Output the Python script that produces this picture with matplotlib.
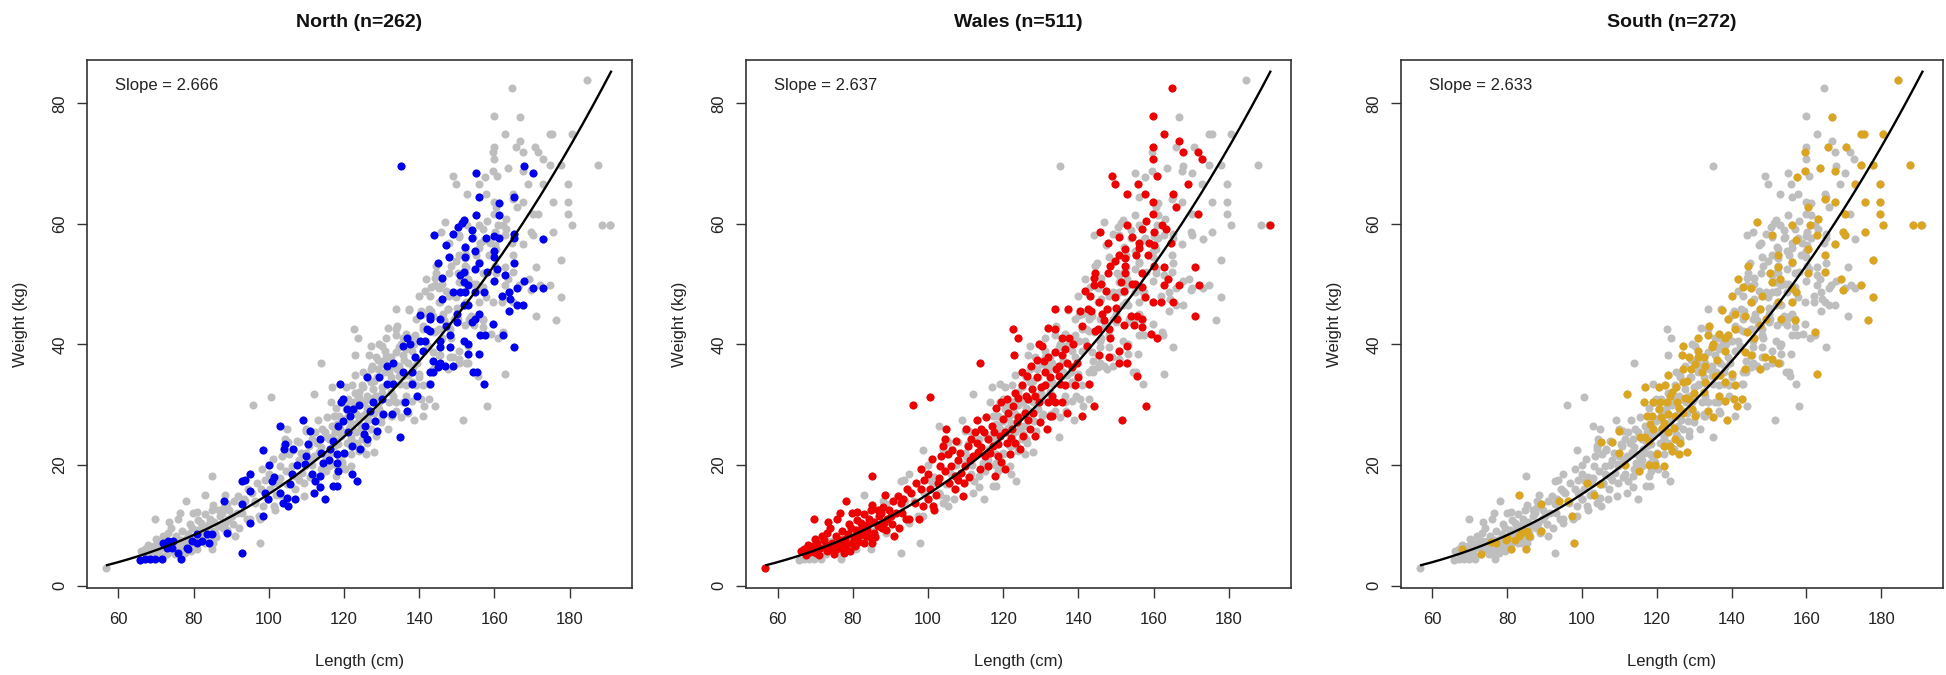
import matplotlib
matplotlib.use("Agg")
import matplotlib.pyplot as plt
import numpy as np

plt.rcParams['font.family'] = ['Liberation Sans', 'DejaVu Sans']

# ---------------- data (length cm, weight kg) ----------------
north = [
    (65.8,4.2),(67.1,4.4),(68.4,4.4),(69.8,4.4),(71.5,4.4),(72.0,7.1),(73.3,7.4),(74.6,7.4),(72.9,6.3),(74.2,6.3),
    (76.0,5.4),(76.8,4.4),(78.2,6.3),(78.6,6.0),(79.5,7.4),(80.8,8.5),(80.8,7.1),(82.2,7.4),(84.0,7.1),(83.5,8.5),
    (84.8,8.5),(88.8,8.8),(92.8,5.4),(88.0,14.1),(92.8,13.5),(95.0,10.4),(92.8,17.4),(93.7,17.6),(95.0,18.5),(95.0,15.7),
    (98.6,11.5),(99.0,15.4),(100.8,17.4),(98.6,22.5),(99.9,14.3),(103.0,15.3),(103.9,13.7),(104.8,14.6),(105.2,13.2),(105.7,16.8),
    (106.1,18.5),(107.0,14.3),(103.0,26.4),(104.1,22.6),(104.3,23.5),(106.5,22.6),(109.0,27.5),(109.7,20.1),(110.5,23.5),(111.0,25.7),
    (111.4,18.5),(112.3,17.4),(111.9,15.4),(113.6,18.2),(113.6,16.3),(115.0,14.3),(114.5,20.4),(113.6,24.4),(115.9,20.9),(116.3,22.6),
    (117.2,16.5),(118.1,16.5),(118.1,20.4),(118.1,21.8),(118.5,19.0),(119.0,33.5),(119.1,30.4),(118.5,26.5),(119.8,30.9),(119.8,27.3),
    (120.7,29.3),(121.2,25.4),(121.6,28.2),(122.5,29.3),(122.1,23.2),(122.1,18.5),(123.4,17.4),(124.3,22.6),(125.2,25.1),(125.6,26.5),
    (126.1,34.6),(126.1,24.3),(127.8,30.4),(128.3,27.3),(128.7,25.7),(129.2,34.6),(130.5,28.5),(132.7,28.5),(131.4,33.5),(131.4,36.5),
    (133.1,33.5),(134.9,24.6),(135.8,39.8),(136.7,41.0),(137.6,40.1),(135.8,35.4),(136.3,30.4),(136.7,29.0),
    (135.1,69.6),(155.0,68.5),(167.9,69.6),(170.2,68.5),(156.0,64.5),(165.1,64.5),(161.1,63.4),(155.0,61.5),(161.1,61.5),
    (151.9,60.6),(151.3,60.1),(150.4,59.5),(149.1,58.4),(144.0,58.1),(154.0,59.0),(154.0,57.6),(157.8,57.6),(161.1,57.6),(165.1,58.4),
    (165.1,57.6),(173.0,57.5),(147.2,56.5),(152.2,56.2),(154.9,55.5),(159.9,55.5),(148.0,54.5),(152.2,54.5),(144.9,53.6),(156.0,53.6),
    (159.9,54.5),(165.1,53.6),(154.9,52.5),(160.6,52.6),(162.8,51.5),(146.0,51.1),(150.9,51.5),(151.8,50.4),(153.1,49.8),(159.9,50.5),
    (167.9,50.5),(170.2,49.4),(173.0,49.4),(149.1,48.7),(150.9,48.7),(152.2,48.7),(154.9,48.7),(157.1,48.7),(164.0,48.7),(165.9,49.4),
    (146.0,47.6),(153.1,46.6),(151.8,46.6),(164.2,47.5),(165.9,46.6),(167.7,46.6),(164.0,45.5),
    (140.2,44.9),(142.9,44.8),(142.9,44.3),(145.6,44.3),(150.0,43.7),(154.9,44.3),(154.0,43.7),(159.7,43.4),(142.0,42.6),(142.9,42.3),
    (140.2,40.6),(141.6,40.6),(145.6,40.6),(148.2,41.6),(151.8,40.6),(153.1,40.1),(156.2,41.5),(157.5,41.5),(162.4,41.5),(145.6,39.6),
    (148.2,39.6),(153.1,38.4),(155.8,38.4),(165.1,39.6),(143.8,37.3),(145.6,37.0),(145.1,36.2),(146.9,36.5),(143.8,35.4),(142.9,35.4),
    (149.1,36.5),(154.4,35.4),(155.3,35.4),(157.1,33.5),(138.0,35.4),(142.9,33.5),(139.3,31.5),(138.0,33.5),
    (100.0,20.0),(101.5,18.0),(107.5,20.0),(110.0,21.5),(114.0,22.0),(117.0,24.0),(120.0,22.0),(124.0,30.0),(127.0,29.0),(130.0,31.0),
    (133.0,37.0),(139.0,38.0),(141.0,39.0),(147.0,43.0),(150.0,45.0),(152.0,52.0),(156.0,45.0),(158.0,52.0),(160.0,58.0),(162.0,48.0),
]

wales = [
    (56.7,2.9),
    (66.1,5.7),(67.0,6.0),(68.0,6.8),(69.2,6.0),(70.1,5.4),(70.5,7.1),(71.4,6.3),(72.3,7.6),(73.2,8.8),(73.2,5.7),
    (74.5,7.1),(75.4,8.2),(75.4,6.0),(76.3,6.3),(76.8,7.6),(77.7,5.4),(78.1,6.8),(78.6,8.5),(79.0,10.2),(79.9,7.1),
    (80.3,7.9),(80.8,9.3),(81.7,8.2),(82.1,10.4),(82.6,8.8),(83.5,8.2),(83.9,9.3),(84.3,11.0),(85.2,7.1),(85.7,8.8),
    (86.6,9.9),(87.0,11.5),(87.5,12.1),(88.3,10.4),(88.8,9.3),(89.2,11.0),(90.1,11.5),(91.0,8.2),(84.8,12.6),(85.2,13.4),
    (75.9,11.0),(78.1,14.0),(79.9,12.1),(69.8,11.0),
    (67.5,5.0),(68.5,5.5),(69.5,6.5),(70.0,7.8),(71.0,5.0),(71.8,8.2),(72.8,6.8),(73.8,6.0),(74.0,9.5),(75.0,5.2),
    (76.0,7.0),(77.0,9.0),(77.3,6.2),(78.0,7.8),(79.3,5.8),(79.5,9.5),(80.5,6.5),(81.2,10.8),(81.5,7.2),(82.5,9.8),
    (83.0,7.0),(84.0,10.2),(84.5,8.0),(85.5,10.5),(86.0,8.0),(86.8,12.5),(87.8,9.5),(88.0,13.0),(89.5,12.5),(90.5,10.2),
    (91.5,12.0),(92.2,9.5),(93.0,12.0),(73.5,10.5),(76.5,12.0),(81.0,12.2),(83.0,11.8),(88.5,15.0),(90.8,14.0),(94.5,16.0),
    (91.9,14.9),(92.8,13.7),(93.3,14.3),(94.1,11.0),(95.0,11.0),(95.5,15.4),(96.4,13.7),(96.8,17.1),(97.7,11.0),(98.2,19.3),
    (98.6,13.2),(99.0,17.6),(99.9,14.3),(100.4,16.0),(101.3,13.2),(101.7,12.6),(102.6,17.1),(103.1,19.8),(103.5,21.5),(104.0,23.2),
    (104.4,24.3),(104.8,26.0),(105.3,21.8),(106.2,19.8),(107.1,18.2),(107.1,16.0),(108.0,17.6),(108.0,20.9),(108.8,18.7),(109.3,14.9),
    (109.7,19.8),(110.6,23.2),(111.1,20.9),(111.5,24.3),(112.4,25.4),(112.9,23.7),(113.3,22.1),(113.8,19.3),(114.2,26.0),(115.1,21.5),
    (116.0,24.3),(116.0,19.8),(116.9,26.5),(117.3,23.2),(117.8,18.2),(118.7,21.5),(119.1,24.9),(119.5,30.4),(120.0,27.6),(120.4,19.3),
    (120.9,23.7),(121.3,28.7),(121.8,21.8),(122.2,26.0),(122.7,29.8),(123.1,23.7),(123.6,27.1),(124.0,31.2),(124.5,22.6),(124.9,33.2),
    (125.3,24.9),(125.8,28.7),(126.2,34.8),(126.7,30.9),(127.1,26.0),(127.6,32.6),(128.0,28.7),(128.5,24.9),(128.9,34.6),(129.4,30.4),
    (129.8,27.1),(130.2,39.8),(130.7,37.3),(131.1,33.2),(131.6,26.0),(132.0,30.4),(132.5,34.6),(132.5,28.2),
    (98.0,16.0),(100.0,18.5),(101.0,21.0),(102.0,15.0),(103.0,17.8),(104.5,19.0),(105.5,17.0),(106.5,22.5),(107.5,24.0),(108.5,22.0),
    (109.5,17.0),(110.0,26.0),(111.0,18.0),(112.0,21.5),(113.0,27.5),(114.0,23.0),(115.0,25.5),(115.5,28.0),(116.5,22.0),(117.5,25.5),
    (118.0,29.5),(118.5,23.5),(119.5,20.5),(120.5,25.5),(121.0,31.0),(122.0,24.5),(123.0,32.0),(124.0,28.0),(125.0,35.5),(126.0,31.5),
    (126.5,27.5),(127.5,36.5),(128.5,31.5),(129.0,37.5),(130.0,33.0),(131.0,35.5),(132.0,38.0),(133.0,31.5),(134.0,36.0),(135.0,33.5),
    (137.0,37.0),(138.5,40.0),(139.5,37.0),(141.0,43.0),(143.0,48.0),(146.0,50.0),(148.5,53.0),(150.0,46.0),(155.0,50.0),(156.0,56.0),
    (158.0,60.5),
    (85.0,18.1),(95.9,29.9),(100.6,31.3),(113.8,36.9),(122.7,42.6),(123.8,41.0),(122.9,38.3),(131.8,42.7),(129.4,40.1),
    (164.8,82.6),(159.8,77.9),(162.8,74.9),(166.8,73.8),(159.8,72.7),(167.7,71.9),(159.8,70.8),(171.7,71.9),(172.8,70.8),(149.0,67.9),
    (149.7,66.7),(155.8,66.7),(160.8,67.9),(169.0,66.7),(152.8,64.9),(157.7,64.9),(159.9,63.7),(165.0,64.9),(165.9,62.8),(159.8,61.7),
    (171.7,61.7),(190.8,59.8),(152.8,59.8),(157.0,59.2),(160.1,58.7),(162.3,59.8),(163.2,59.2),(145.8,58.7),(150.7,57.9),(154.3,57.9),
    (156.1,56.8),(158.8,56.8),(160.1,56.5),(164.6,56.8),(147.9,56.8),(152.3,55.9),(150.7,54.9),(152.3,54.3),(155.2,54.9),(158.6,54.9),
    (149.8,53.8),(152.3,53.1),(160.1,53.1),(144.5,51.8),(147.9,51.8),(152.3,51.8),(157.0,51.8),(162.8,52.9),(171.1,52.9),(144.1,51.0),
    (151.2,50.4),(154.3,50.1),(163.7,50.9),(162.8,49.8),(166.6,49.8),(172.0,49.8),(141.6,48.8),(144.1,49.8),(147.2,48.8),(149.7,47.9),
    (152.1,48.8),(157.0,49.5),(157.7,47.9),(159.7,47.0),(161.9,47.0),(165.0,47.0),(145.4,47.0),(142.5,45.9),(133.8,45.9),(137.2,45.9),
    (140.5,45.6),(143.2,45.6),(146.3,45.1),(147.6,45.9),(146.7,44.0),(150.3,44.3),(152.1,43.2),(153.9,44.8),(155.6,44.8),(154.7,43.2),
    (157.0,44.3),(157.0,42.9),(159.2,41.8),(161.0,41.0),(171.1,44.8),(145.2,42.6),(148.1,42.6),(144.5,42.3),(148.5,41.0),(153.0,39.8),
    (150.7,39.0),(145.4,38.2),(148.1,37.9),(150.7,37.0),(153.0,37.0),(155.6,34.8),(157.9,29.8),(142.3,39.8),(142.7,33.5),(144.1,29.8),
    (140.9,28.2),(151.6,27.4),(139.2,33.2),(140.0,34.6),(138.3,36.2),(135.6,41.0),(137.4,41.0),(136.5,39.3),(133.8,42.6),(133.8,38.7),
    (135.6,38.2),(134.7,36.5),(134.7,34.8),(136.5,33.2),(133.8,30.4),(135.6,30.4),(132.9,28.2),(136.9,28.7),
]

south = [
    (67.8,6.1),(72.9,5.3),(75.6,7.2),(76.9,7.1),(79.6,7.5),(80.0,7.9),(80.9,6.0),(82.2,7.5),(83.1,8.2),(83.6,8.8),
    (84.9,6.0),(85.3,9.0),(85.8,8.2),(88.9,9.1),(83.1,15.0),(88.9,13.5),(93.8,14.0),(96.3,14.0),(97.3,11.6),(97.8,7.1),
    (101.3,17.1),(103.1,15.0),(104.9,16.8),(105.2,23.9),(108.0,23.9),(109.8,25.7),(109.8,22.0),(111.6,20.0),(112.0,31.8),(115.1,19.0),
    (115.6,24.6),(116.9,32.9),(117.8,20.0),(118.2,26.8),(118.7,28.2),(119.6,20.0),(120.0,21.8),(120.5,32.9),(120.9,30.4),(121.3,26.2),
    (121.8,19.9),(121.8,23.2),(122.2,33.2),(122.7,30.4),(123.1,28.5),(123.6,31.5),(124.0,32.1),(124.5,26.2),(124.9,28.2),(124.9,24.3),
    (125.3,30.4),(125.8,21.8),(126.2,23.7),(126.7,38.2),(127.1,39.8),(127.1,35.9),(127.1,33.7),(127.1,28.7),(127.6,31.2),(128.0,22.1),
    (124.0,22.4),(123.6,23.2),(116.5,30.4),(117.3,28.2),(119.1,30.4),(120.5,29.3),(116.9,24.6),(123.1,25.4),
    (118.0,24.0),(119.0,26.0),(121.0,28.0),(122.0,27.0),(123.0,35.0),(125.0,33.0),(126.0,29.5),(128.0,34.0),(129.0,36.0),(130.0,32.0),
    (131.0,39.0),(133.0,36.5),(134.0,43.0),(136.0,37.5),(137.0,35.0),(139.0,41.5),(141.0,45.0),(144.0,42.0),(146.0,41.0),(148.0,48.0),
    (184.5,83.8),(166.7,77.7),(174.7,74.9),(175.4,74.9),(180.5,74.9),(159.6,71.9),(165.8,72.7),(170.7,72.7),(187.6,69.8),(174.7,69.8),
    (177.8,69.8),(159.6,68.8),(163.6,69.3),(167.6,68.8),(157.6,67.8),(172.9,66.7),(179.6,66.7),(160.5,62.8),(164.9,64.2),(167.6,63.7),
    (175.6,63.7),(179.6,63.7),(163.1,60.9),(179.6,61.7),(156.0,59.9),(160.9,59.8),(170.2,61.7),(180.5,59.8),(188.5,59.8),(190.7,59.8),
    (146.9,60.3),(150.7,58.1),(157.3,57.3),(162.7,58.1),(170.2,58.1),(169.8,58.7),(167.6,56.7),(175.6,58.7),(152.5,54.8),(160.5,55.9),
    (164.9,54.8),(156.0,53.7),(177.8,54.0),(141.8,50.9),(144.5,53.0),(150.2,51.8),(152.5,52.9),(152.9,50.9),(160.5,51.8),(164.9,52.0),
    (143.1,49.5),(145.3,49.3),(150.7,50.4),(156.0,49.3),(157.3,48.7),(169.3,50.9),(169.8,49.0),(174.7,49.8),(177.8,47.9),(140.0,48.1),
    (145.3,47.0),(152.5,47.0),(156.0,47.0),(137.3,45.7),(139.1,44.3),(143.6,44.8),(147.6,45.9),(149.3,44.3),(147.6,43.2),(153.3,44.3),
    (156.9,44.0),(162.2,42.0),(176.5,44.0),(131.1,41.0),(133.8,41.5),(135.1,40.0),(136.5,41.8),(138.2,41.0),(140.9,42.6),(134.7,39.6),
    (138.2,39.0),(143.6,38.7),(128.5,37.9),(131.1,37.9),(132.5,37.9),(145.3,38.2),(148.9,37.9),(150.7,37.6),(152.5,37.0),(130.2,36.8),
    (132.0,35.4),(135.6,34.8),(140.0,35.1),(143.6,35.9),(147.6,35.9),(162.7,35.1),(132.9,33.7),(138.2,33.7),(140.9,33.2),(132.5,32.1),
    (136.5,31.5),(138.2,30.7),(140.5,31.0),(142.7,31.0),(141.3,29.8),(133.8,29.0),(135.1,27.9),(138.7,27.4),(129.3,29.3),(130.2,28.2),
    (128.5,31.0),
]

region_names = ["North", "Wales", "South"]
region_n = [262, 511, 272]
region_slopes = [2.666, 2.637, 2.633]
region_colors = ["#0000EE", "#EE0000", "#DAA520"]
region_points = [north, wales, south]

# fitted length-weight curve W = a * L^b (shown identical in all panels)
curve_b = 2.666
curve_ref_length = 190.7
curve_ref_weight = 84.9
curve_length_range = (57.0, 191.0)

x_ticks = [60, 80, 100, 120, 140, 160, 180]
y_ticks = [0, 20, 40, 60, 80]

# ---------------- figure ----------------
W, H = 1946, 675
fig = plt.figure(figsize=(W / 100, H / 100), dpi=100)
fig.patch.set_facecolor("white")

lefts = [86.7, 746.0, 1401.0]
widths = [545.0, 545.0, 542.0]
ax_bottom, ax_top = 588.0, 60.0
ax_h = ax_bottom - ax_top

all_pts = np.array(north + wales + south)
Lc = np.linspace(curve_length_range[0], curve_length_range[1], 300)
a = curve_ref_weight / curve_ref_length ** curve_b
Wc = a * Lc ** curve_b

for i in range(3):
    ax = fig.add_axes([lefts[i] / W, (H - ax_bottom) / H, widths[i] / W, ax_h / H])
    ax.plot(all_pts[:, 0], all_pts[:, 1], "o", ms=5.8, color="#BEBEBE", mec="none")
    pts = np.array(region_points[i])
    ax.plot(pts[:, 0], pts[:, 1], "o", ms=5.8, color=region_colors[i], mec="none")
    ax.plot(Lc, Wc, color="black", lw=1.7)

    ax.set_xlim(51.6, 196.5)
    ax.set_ylim(-0.4, 87.2)
    ax.set_xticks(x_ticks)
    ax.set_yticks(y_ticks)
    ax.tick_params(axis="both", direction="out", length=7, width=1.0, color="#333333",
                   labelsize=12, labelcolor="#222222")
    ax.tick_params(axis="x", pad=10)
    ax.tick_params(axis="y", pad=7)
    for lab in ax.get_yticklabels():
        lab.set_rotation(90)
        lab.set_va("center")
        lab.set_ha("right")
    for sp in ax.spines.values():
        sp.set_color("#333333")
        sp.set_linewidth(1.2)

    ax.set_xlabel("Length (cm)", fontsize=12, color="#222222")
    ax.xaxis.set_label_coords(0.5, -(661.7 - ax_bottom) / ax_h)
    ax.xaxis.label.set_va("center")
    ax.set_ylabel("Weight (kg)", fontsize=12, color="#222222")
    ax.yaxis.set_label_coords(-(86.7 - 20.0) / widths[i], 0.5)
    ax.yaxis.label.set_va("center")

    ax.text(0.5, 1 + (ax_top - 26.7) / ax_h,
            f"{region_names[i]} (n={region_n[i]})", transform=ax.transAxes,
            ha="center", va="baseline", fontsize=14, fontweight="bold", color="#111111")
    ax.text((115.0 - 86.7) / widths[i], 1 - (90.0 - ax_top) / ax_h,
            f"Slope = {region_slopes[i]:.3f}", transform=ax.transAxes,
            ha="left", va="baseline", fontsize=12, color="#222222")

fig.savefig("out.png", dpi=100, facecolor="white")
